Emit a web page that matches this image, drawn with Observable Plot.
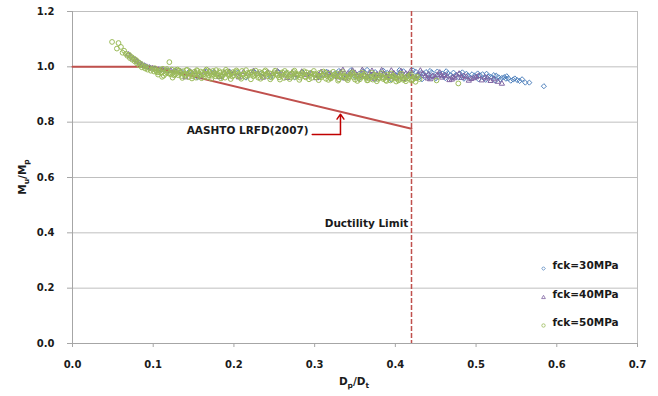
<!DOCTYPE html>
<html><head><meta charset="utf-8">
<script src="https://cdn.jsdelivr.net/npm/d3@7"></script>
<script src="https://cdn.jsdelivr.net/npm/@observablehq/plot@0.6"></script>
<style>
html,body{margin:0;padding:0;background:#fff;}
#chart{position:relative;width:658px;height:396px;}
</style></head><body><div id="chart"></div>
<script>
// fck = 30 MPa (diamonds)
const fck30 = [
[0.085,1.010],[0.090,1.003],[0.096,0.998],[0.102,0.993],[0.110,0.990],[0.118,0.987],[0.126,0.985],[0.135,0.983],[0.145,0.984],[0.155,0.962],
[0.165,0.983],[0.175,0.981],[0.185,0.964],[0.195,0.982],[0.205,0.980],[0.215,0.961],[0.225,0.983],[0.235,0.979],[0.245,0.963],[0.255,0.982],
[0.265,0.978],[0.275,0.962],[0.285,0.981],[0.295,0.977],[0.305,0.963],[0.315,0.982],[0.325,0.976],[0.335,0.961],[0.345,0.980],[0.355,0.975],
[0.365,0.962],[0.375,0.981],[0.385,0.973],[0.395,0.965],[0.405,0.979],[0.415,0.970],[0.425,0.983],[0.430,0.962],[0.435,0.975],[0.440,0.968],
[0.445,0.980],[0.450,0.958],[0.455,0.972],[0.460,0.966],[0.465,0.977],[0.470,0.962],[0.475,0.970],[0.480,0.975],[0.485,0.957],[0.490,0.968],
[0.495,0.973],[0.500,0.963],[0.505,0.969],[0.510,0.958],[0.515,0.966],[0.520,0.961],[0.525,0.968],[0.530,0.955],[0.535,0.963],[0.540,0.958],
[0.543,0.950],[0.546,0.954],[0.554,0.949],[0.561,0.943],[0.566,0.943],[0.584,0.930],
[0.310,0.972],[0.320,0.966],[0.330,0.985],[0.340,0.970],[0.350,0.964],[0.360,0.984],[0.370,0.969],[0.380,0.960],[0.390,0.978],[0.400,0.971],
[0.410,0.984],[0.420,0.966],[0.428,0.971],[0.438,0.981],[0.448,0.967],[0.458,0.976],[0.468,0.970],[0.478,0.963],[0.488,0.975],[0.498,0.968],
[0.508,0.973],[0.518,0.964],[0.528,0.962],[0.537,0.957],
[0.422,0.987],[0.432,0.978],[0.442,0.961],[0.452,0.983],[0.462,0.959],[0.472,0.979],[0.482,0.966],[0.492,0.961],[0.502,0.976],[0.512,0.953],
[0.522,0.970],[0.532,0.960],[0.538,0.966],[0.548,0.958],[0.551,0.952],[0.557,0.955],[0.345,0.988],[0.365,0.989],[0.385,0.986],[0.405,0.988],
[0.395,0.954],[0.375,0.956],[0.355,0.957],[0.433,0.955],[0.443,0.985],[0.463,0.984],[0.483,0.980],[0.503,0.955],[0.513,0.975],[0.524,0.950]
];
// fck = 40 MPa (triangles)
const fck40 = [
[0.069,1.045],[0.072,1.038],[0.075,1.030],[0.078,1.025],[0.080,1.020],[0.083,1.014],[0.086,1.008],[0.089,1.004],[0.092,1.000],[0.095,0.997],
[0.099,0.994],[0.103,0.992],[0.107,0.990],[0.112,0.988],[0.117,0.986],[0.122,0.985],[0.128,0.984],[0.134,0.983],[0.140,0.962],[0.146,0.982],
[0.152,0.981],[0.158,0.965],[0.164,0.980],[0.170,0.983],[0.176,0.979],[0.182,0.963],[0.188,0.978],[0.194,0.982],[0.200,0.977],[0.206,0.962],
[0.212,0.981],[0.218,0.976],[0.224,0.984],[0.230,0.975],[0.236,0.961],[0.242,0.980],[0.248,0.974],[0.254,0.983],[0.260,0.972],[0.266,0.960],
[0.272,0.979],[0.278,0.971],[0.284,0.982],[0.290,0.970],[0.296,0.976],[0.302,0.959],[0.308,0.981],[0.314,0.969],[0.320,0.975],[0.326,0.966],
[0.332,0.980],[0.338,0.958],[0.344,0.972],[0.350,0.978],[0.356,0.965],[0.362,0.970],[0.368,0.976],[0.374,0.957],[0.380,0.968],[0.386,0.974],
[0.392,0.962],[0.398,0.977],[0.404,0.966],[0.410,0.956],[0.416,0.972],[0.422,0.963],[0.428,0.968],[0.434,0.975],[0.440,0.958],[0.446,0.967],
[0.452,0.971],[0.458,0.961],[0.464,0.966],[0.470,0.954],[0.476,0.969],[0.482,0.960],[0.488,0.964],[0.494,0.956],[0.500,0.962],[0.507,0.951],
[0.514,0.958],[0.522,0.955],[0.532,0.939],
[0.305,0.970],[0.317,0.978],[0.329,0.962],[0.341,0.975],[0.353,0.968],[0.365,0.963],[0.377,0.972],[0.389,0.967],[0.401,0.960],[0.413,0.975],
[0.425,0.958],[0.437,0.966],[0.449,0.962],[0.461,0.970],[0.473,0.959],[0.485,0.967],[0.497,0.959],
[0.431,0.986],[0.443,0.955],[0.455,0.979],[0.467,0.952],[0.479,0.975],[0.491,0.950],[0.503,0.967],[0.511,0.962],[0.518,0.949],[0.527,0.946],
[0.441,0.972],[0.457,0.968],[0.471,0.963],[0.419,0.985],[0.407,0.984],[0.395,0.986],[0.383,0.987],[0.371,0.985],[0.359,0.988],[0.347,0.986],
[0.335,0.988]
];
// fck = 50 MPa (circles)
const fck50 = [
[0.049,1.090],[0.057,1.086],[0.055,1.066],[0.060,1.072],[0.062,1.051],[0.064,1.058],[0.066,1.047],[0.068,1.040],[0.070,1.044],[0.071,1.032],
[0.073,1.036],[0.074,1.026],[0.076,1.030],[0.077,1.020],[0.079,1.024],[0.080,1.012],[0.082,1.016],[0.083,1.005],[0.085,1.010],[0.086,0.998],
[0.088,1.003],[0.090,0.994],[0.091,1.000],[0.093,0.990],[0.095,0.996],[0.097,0.986],[0.099,0.992],[0.101,0.983],[0.103,0.989],[0.105,0.980],
[0.108,0.986],[0.110,0.978],[0.112,0.993],[0.115,0.975],[0.118,0.984],[0.120,1.017],[0.122,0.972],[0.125,0.980],[0.128,0.988],[0.131,0.970],
[0.134,0.978],[0.137,0.984],[0.140,0.968],[0.143,0.975],[0.146,0.981],[0.149,0.966],[0.152,0.973],[0.155,0.985],[0.158,0.970],[0.161,0.978],
[0.164,0.964],[0.167,0.975],[0.170,0.982],[0.173,0.968],[0.176,0.977],[0.179,0.971],[0.182,0.984],[0.185,0.965],[0.188,0.974],[0.191,0.980],
[0.194,0.968],[0.197,0.976],[0.200,0.970],[0.204,0.983],[0.208,0.963],[0.212,0.975],[0.216,0.969],[0.220,0.979],[0.224,0.966],[0.228,0.974],
[0.232,0.981],[0.236,0.964],[0.240,0.972],[0.244,0.977],[0.248,0.967],[0.252,0.975],[0.256,0.962],[0.260,0.980],[0.264,0.970],[0.268,0.966],
[0.272,0.976],[0.276,0.963],[0.280,0.972],[0.284,0.978],[0.288,0.965],[0.292,0.971],[0.296,0.960],[0.300,0.975],[0.304,0.968],[0.308,0.962],
[0.312,0.973],[0.316,0.966],[0.320,0.958],[0.324,0.970],[0.328,0.976],[0.332,0.963],[0.336,0.968],[0.340,0.957],[0.344,0.972],[0.348,0.962],
[0.352,0.967],[0.356,0.955],[0.360,0.970],[0.364,0.960],[0.368,0.965],[0.372,0.954],[0.376,0.968],[0.380,0.959],[0.384,0.963],[0.388,0.952],
[0.392,0.966],[0.396,0.957],[0.400,0.961],[0.404,0.951],[0.408,0.964],[0.412,0.955],[0.416,0.959],[0.420,0.950],[0.424,0.962],[0.430,0.956],
[0.451,0.951],[0.478,0.940],
[0.102,0.995],[0.106,0.972],[0.109,0.990],[0.113,0.968],[0.116,0.987],[0.119,0.976],[0.123,0.990],[0.126,0.969],[0.129,0.977],[0.132,0.986],
[0.135,0.967],[0.138,0.974],[0.141,0.988],[0.144,0.963],[0.147,0.979],[0.150,0.971],[0.153,0.961],[0.156,0.977],[0.159,0.983],[0.162,0.972],
[0.165,0.986],[0.168,0.962],[0.171,0.977],[0.174,0.985],[0.177,0.966],[0.180,0.974],[0.183,0.979],[0.186,0.970],[0.189,0.961],[0.192,0.983],
[0.195,0.972],[0.198,0.965],[0.202,0.977],[0.206,0.970],[0.210,0.985],[0.214,0.964],[0.218,0.973],[0.222,0.982],[0.226,0.970],[0.230,0.961],
[0.234,0.977],[0.238,0.983],[0.242,0.966],[0.246,0.974],[0.250,0.980],[0.254,0.969],[0.258,0.976],[0.262,0.960],[0.266,0.978],[0.270,0.972],
[0.274,0.981],[0.278,0.968],[0.282,0.961],[0.286,0.974],[0.290,0.980],[0.294,0.967],[0.298,0.973],[0.302,0.962],[0.306,0.978],[0.310,0.969],
[0.314,0.957],[0.318,0.975],[0.322,0.964],[0.326,0.969],[0.330,0.955],[0.334,0.974],[0.338,0.965],[0.342,0.960],[0.346,0.977],[0.350,0.954],
[0.354,0.969],[0.358,0.963],[0.362,0.974],[0.366,0.952],[0.370,0.962],[0.374,0.971],[0.378,0.956],[0.382,0.968],[0.386,0.960],[0.390,0.972],
[0.394,0.951],[0.398,0.966],[0.402,0.958],[0.406,0.969],[0.410,0.953],[0.414,0.963],[0.418,0.968],[0.422,0.956],[0.427,0.965],
[0.104,0.985],[0.111,0.964],[0.117,0.992],[0.124,0.961],[0.130,0.990],[0.136,0.960],[0.142,0.989],[0.148,0.958],[0.154,0.988],[0.160,0.959],
[0.166,0.990],[0.172,0.957],[0.178,0.988],[0.184,0.958],[0.190,0.989],[0.196,0.956],[0.203,0.987],[0.209,0.957],[0.215,0.988],[0.221,0.955],
[0.227,0.986],[0.233,0.957],[0.239,0.987],[0.245,0.955],[0.251,0.986],[0.257,0.954],[0.263,0.985],[0.269,0.956],[0.275,0.986],[0.281,0.953],
[0.287,0.984],[0.293,0.955],[0.299,0.985],[0.305,0.952],[0.311,0.983],[0.317,0.953],[0.323,0.982],[0.329,0.950],[0.335,0.981],[0.341,0.952],
[0.347,0.980],[0.353,0.949],[0.359,0.979],[0.365,0.951],[0.371,0.978],[0.377,0.948],[0.383,0.977],[0.389,0.949],[0.395,0.976],[0.401,0.947],
[0.407,0.975],[0.413,0.948],[0.419,0.974],[0.425,0.946],
[0.107,0.981],[0.121,0.978],[0.127,0.973],[0.133,0.980],[0.139,0.971],[0.145,0.977],[0.151,0.982],[0.157,0.967],[0.163,0.975],[0.169,0.970],
[0.175,0.972],[0.181,0.967],[0.187,0.981],[0.193,0.975],[0.199,0.981],[0.205,0.966],[0.211,0.971],[0.217,0.978],[0.223,0.974],[0.229,0.968],
[0.235,0.971],[0.241,0.976],[0.247,0.962],[0.253,0.972],[0.259,0.967],[0.265,0.974],[0.271,0.963],[0.277,0.976],[0.283,0.970],[0.289,0.962],
[0.295,0.978],[0.301,0.970],[0.307,0.966],[0.313,0.979],[0.319,0.961],[0.325,0.973],[0.331,0.967],[0.337,0.961],[0.343,0.966],[0.349,0.971],
[0.355,0.961],[0.361,0.966],[0.367,0.959],[0.373,0.964],[0.379,0.969],[0.385,0.956],[0.391,0.961],[0.397,0.969],[0.403,0.954],[0.409,0.960],
[0.415,0.966],[0.421,0.953],[0.426,0.959]
];
const seriesNames = ["fck=30MPa", "fck=40MPa", "fck=50MPa"];
const aashtoCurve = [[0, 1.0], [0.1, 1.0], [0.42, 0.776]];
const ductilityLimit = [0.42];
const annotationLabels = [
  {label: "AASHTO LRFD(2007)", x: 0.2925, y: 0.768},
  {label: "Ductility Limit", x: 0.416, y: 0.435}
];
const leaderLine = [[0.297, 0.755], [0.332, 0.755]];
const leaderArrow = [{x1: 0.332, y1: 0.755, x2: 0.332, y2: 0.829}];
const xTicks = [0, 0.1, 0.2, 0.3, 0.4, 0.5, 0.6, 0.7];
const yTicks = [0, 0.2, 0.4, 0.6, 0.8, 1.0, 1.2];

const BLUE = "#4F81BD", PURPLE = "#8064A2", GREEN = "#9BBB59", RED = "#C0504D";
const FONT = "DejaVu Sans";

const chart = Plot.plot({
  width: 658, height: 396,
  marginLeft: 72, marginRight: 21, marginTop: 11, marginBottom: 53,
  style: {fontFamily: FONT, fontWeight: "bold", fontSize: "10px", color: "#000", background: "#fff"},
  x: {domain: [0, 0.7]},
  y: {domain: [0, 1.2]},
  marks: [
    Plot.gridY(yTicks, {stroke: "#BFBFBF", strokeOpacity: 1}),
    Plot.ruleX([0], {stroke: "#A6A6A6"}),
    Plot.ruleX([0.7], {stroke: "#BFBFBF"}),
    Plot.ruleY([0], {stroke: "#A6A6A6"}),
    Plot.axisY(yTicks, {tickFormat: d3.format(".1f"), tickSize: 5, tickPadding: 13, stroke: "#A6A6A6", fill: "#1a1a1a", label: null}),
    Plot.axisX(xTicks, {tickFormat: d3.format(".1f"), tickSize: 4, tickPadding: 13, stroke: "#A6A6A6", fill: "#1a1a1a", label: null}),
    Plot.ruleX(ductilityLimit, {stroke: RED, strokeWidth: 1.5, strokeDasharray: "5,2"}),
    Plot.line(aashtoCurve, {x: d => d[0], y: d => d[1], stroke: RED, strokeWidth: 2}),
    Plot.dot(fck30, {x: d => d[0], y: d => d[1], symbol: "diamond2", r: 2.3, stroke: BLUE, strokeWidth: 1, fill: "none"}),
    Plot.dot(fck40, {x: d => d[0], y: d => d[1], symbol: "triangle2", r: 2.5, stroke: PURPLE, strokeWidth: 1, fill: "none"}),
    Plot.dot(fck50, {x: d => d[0], y: d => d[1], symbol: "circle", r: 2.4, stroke: GREEN, strokeWidth: 1, fill: "none"}),
    Plot.line(leaderLine, {x: d => d[0], y: d => d[1], stroke: "#C00000", strokeWidth: 1.5}),
    Plot.arrow(leaderArrow, {x1: "x1", y1: "y1", x2: "x2", y2: "y2", stroke: "#C00000", strokeWidth: 1.5, headLength: 6, headAngle: 70}),
    Plot.text(annotationLabels, {x: "x", y: "y", text: "label", textAnchor: "end", fontSize: 10.5, fill: "#1a1a1a"}),
    // legend
    Plot.dot([seriesNames[0]], {frameAnchor: "bottom-right", dx: -94, dy: -75, symbol: "diamond2", r: 1.6, stroke: BLUE, strokeWidth: 0.8, fill: "none"}),
    Plot.dot([seriesNames[1]], {frameAnchor: "bottom-right", dx: -94, dy: -46, symbol: "triangle2", r: 1.8, stroke: PURPLE, strokeWidth: 0.8, fill: "none"}),
    Plot.dot([seriesNames[2]], {frameAnchor: "bottom-right", dx: -94, dy: -18, symbol: "circle", r: 1.7, stroke: GREEN, strokeWidth: 0.8, fill: "none"}),
    Plot.text([seriesNames[0]], {frameAnchor: "bottom-right", dx: -85, dy: -75, text: d => d, textAnchor: "start", fontSize: 10.5, fill: "#1a1a1a"}),
    Plot.text([seriesNames[1]], {frameAnchor: "bottom-right", dx: -85, dy: -46, text: d => d, textAnchor: "start", fontSize: 10.5, fill: "#1a1a1a"}),
    Plot.text([seriesNames[2]], {frameAnchor: "bottom-right", dx: -85, dy: -18, text: d => d, textAnchor: "start", fontSize: 10.5, fill: "#1a1a1a"})
  ]
});
document.getElementById("chart").appendChild(chart);

// axis titles with subscripts
const svg = d3.select(chart);
const yl = svg.append("text")
  .attr("transform", "translate(26,177) rotate(-90)")
  .attr("text-anchor", "middle")
  .attr("font-family", FONT).attr("font-weight", "bold").attr("font-size", 10.5).attr("fill", "#1a1a1a");
yl.append("tspan").text("M");
yl.append("tspan").attr("dy", 3).attr("font-size", 7.5).text("u");
yl.append("tspan").attr("dy", -3).text("/M");
yl.append("tspan").attr("dy", 3).attr("font-size", 7.5).text("p");
const xl = svg.append("text")
  .attr("x", 354).attr("y", 385)
  .attr("text-anchor", "middle")
  .attr("font-family", FONT).attr("font-weight", "bold").attr("font-size", 10.5).attr("fill", "#1a1a1a");
xl.append("tspan").text("D");
xl.append("tspan").attr("dy", 3).attr("font-size", 7.5).text("p");
xl.append("tspan").attr("dy", -3).text("/D");
xl.append("tspan").attr("dy", 3).attr("font-size", 7.5).text("t");
</script>
</body></html>
